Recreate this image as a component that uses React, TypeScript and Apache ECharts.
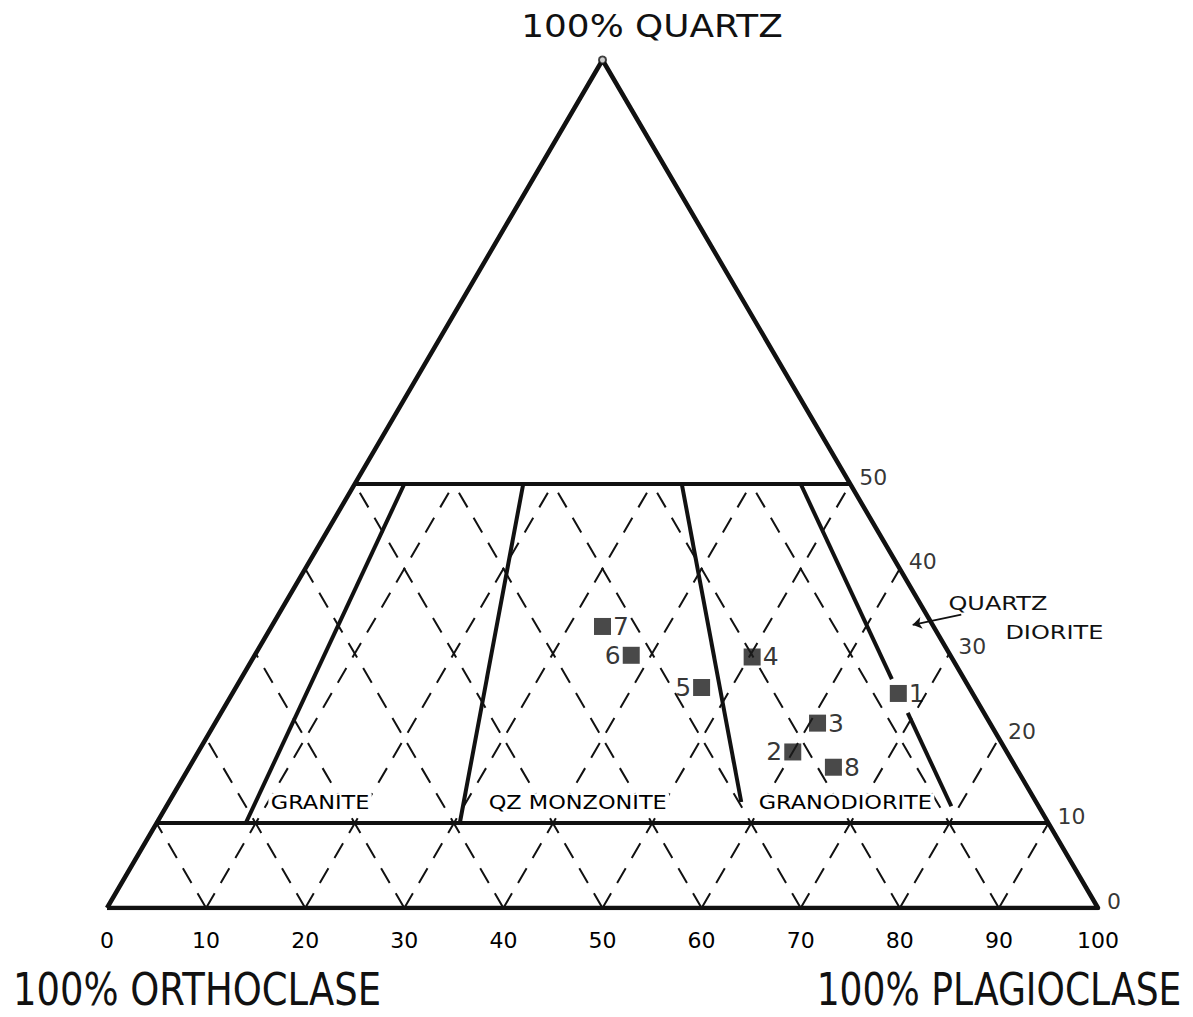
import React, { useEffect, useRef } from "react";
import * as echarts from "echarts";

// ---- data ----
const quartzTicks = [0, 10, 20, 30, 40, 50];
const gridSteps = [10, 20, 30, 40, 50, 60, 70, 80, 90];
const solidQuartzLevels = [10, 50];
const gridTopQuartz = 50;

// field boundaries: plagioclase / (plagioclase + orthoclase) ratio, quartz range
const boundaryRatios = [10, 34, 66, 90, 90];
const boundaryQuartzFrom = [10, 10, 12.5, 12, 27];
const boundaryQuartzTo = [50, 50, 50, 23, 50];

const sampleIds = ["1", "2", "3", "4", "5", "6", "7", "8"];
const sampleQuartz = [25.3, 18.4, 21.8, 29.6, 26, 29.8, 33.2, 16.6];
const samplePlagioclase = [67.2, 60, 60.8, 50.3, 47, 38, 33.4, 65];
const sampleOrthoclase = sampleIds.map((_, i) => 100 - sampleQuartz[i] - samplePlagioclase[i]);
const samplesLabelledLeft = ["2", "5", "6"];

const fieldNames = ["GRANITE", "QZ MONZONITE", "GRANODIORITE"];

const FONT = "'DejaVu Sans', 'Liberation Sans', sans-serif";

// ternary (quartz, plagioclase) -> cartesian (base %, height %)
const xy = (q: number, p: number): [number, number] => [p + q / 2, q];

export default function App() {
  const ref = useRef<HTMLDivElement>(null);

  useEffect(() => {
    if (!ref.current) return;
    const chart = echarts.init(ref.current, undefined, { renderer: "svg" });

    const dashed: [number, number][][] = [];
    gridSteps.forEach((k) => {
      const qmax = Math.min(gridTopQuartz, 100 - k);
      dashed.push([xy(0, k), xy(qmax, k)]); // constant plagioclase
      dashed.push([xy(0, 100 - k), xy(qmax, 100 - k - qmax)]); // constant orthoclase
    });

    const solid = solidQuartzLevels.map((q) => [xy(q, 0), xy(q, 100 - q)]);

    const boundaries = boundaryRatios.map((r, i) => {
      const q0 = boundaryQuartzFrom[i];
      const q1 = boundaryQuartzTo[i];
      return [xy(q0, (r * (100 - q0)) / 100), xy(q1, (r * (100 - q1)) / 100)];
    });

    const sampleData = sampleIds.map((id, i) => ({
      value: xy(sampleQuartz[i], 100 - sampleQuartz[i] - sampleOrthoclase[i]),
      name: id,
      label: {
        position: samplesLabelledLeft.includes(id) ? "left" : "right",
      },
    }));

    const textStyleBase = { fontFamily: FONT, color: "#000" };

    chart.setOption({
      animation: false,
      backgroundColor: "#ffffff",
      grid: { left: 107, right: 95, top: 60, bottom: 109 },
      xAxis: {
        type: "value",
        min: 0,
        max: 100,
        interval: 10,
        axisLine: { show: false },
        axisTick: { show: false },
        splitLine: { show: false },
        axisLabel: { show: true, margin: 21, fontSize: 22, ...textStyleBase },
      },
      yAxis: {
        type: "value",
        min: 0,
        max: 100,
        show: false,
        splitLine: { show: false },
      },
      series: [
        {
          type: "lines",
          coordinateSystem: "cartesian2d",
          silent: true,
          data: dashed.map((c) => ({ coords: c })),
          lineStyle: { color: "#111", width: 2, type: [17, 12], opacity: 1 },
          z: 2,
        },
        {
          type: "line",
          data: [xy(0, 0), xy(0, 100), xy(100, 0), xy(0, 0)],
          showSymbol: false,
          silent: true,
          lineStyle: { color: "#111", width: 4.5, join: "round" },
          z: 3,
        },
        {
          type: "lines",
          coordinateSystem: "cartesian2d",
          silent: true,
          data: solid.map((c) => ({ coords: c })),
          lineStyle: { color: "#111", width: 4, opacity: 1 },
          z: 3,
        },
        {
          type: "lines",
          coordinateSystem: "cartesian2d",
          silent: true,
          data: boundaries.map((c) => ({ coords: c })),
          lineStyle: { color: "#111", width: 4, opacity: 1 },
          z: 3,
        },
        {
          type: "lines",
          coordinateSystem: "cartesian2d",
          silent: true,
          symbol: ["none", "arrow"],
          symbolSize: 9,
          data: [{ coords: [[86.2, 34.6], [81.3, 33.4]] }],
          lineStyle: { color: "#111", width: 1.8, opacity: 1 },
          z: 3,
        },
        {
          type: "scatter",
          silent: true,
          symbol: "circle",
          symbolSize: 7,
          itemStyle: { color: "#fff", borderColor: "#111", borderWidth: 2 },
          data: [xy(100, 0)],
          z: 4,
        },
        {
          type: "scatter",
          silent: true,
          symbolSize: 0,
          data: quartzTicks.map((q) => ({ value: xy(q, 100 - q), name: String(q) })),
          label: {
            show: true,
            position: "right",
            distance: 0,
            offset: [9, -7],
            formatter: (p: any) => p.name,
            fontSize: 22,
            ...textStyleBase,
          },
          z: 5,
        },
        {
          type: "scatter",
          silent: true,
          symbol: "rect",
          symbolSize: 17,
          itemStyle: { color: "#1c1c1c" },
          data: sampleData,
          label: {
            show: true,
            distance: 2,
            formatter: (p: any) => p.name,
            fontSize: 25,
            ...textStyleBase,
          },
          z: 6,
        },
      ],
    });

    const px = (x: number, y: number) => chart.convertToPixel({ gridIndex: 0 }, [x, y]) as number[];
    const fieldAnchors: [number, number][] = [
      [21.5, 12.4],
      [47.5, 12.4],
      [74.5, 12.4],
    ];
    const fieldTexts = fieldNames.map((name, i) => {
      const [x, y] = px(fieldAnchors[i][0], fieldAnchors[i][1]);
      return {
        type: "text",
        x,
        y,
        scaleX: 1.18,
        silent: true,
        style: {
          text: name,
          fontSize: 19,
          fontFamily: FONT,
          fill: "#000",
          textAlign: "center",
          textVerticalAlign: "middle",
          backgroundColor: "#fff",
          padding: [0, 2],
        },
        z: 10,
      };
    });
    const [qx1, qy1] = px(89.9, 36);
    const [qx2, qy2] = px(95.6, 32.6);

    const titleStyle = (text: string, size: number) => ({
      text,
      fontSize: size,
      fontFamily: FONT,
      fill: "#111",
      textAlign: "center",
      textVerticalAlign: "middle",
    });

    chart.setOption({
      graphic: [
        ...fieldTexts,
        {
          type: "text",
          x: qx1,
          y: qy1,
          scaleX: 1.2,
          silent: true,
          style: titleStyle("QUARTZ", 20),
          z: 10,
        },
        {
          type: "text",
          x: qx2,
          y: qy2,
          scaleX: 1.2,
          silent: true,
          style: titleStyle("DIORITE", 20),
          z: 10,
        },
        {
          type: "text",
          x: 652,
          y: 26,
          scaleX: 1.12,
          silent: true,
          style: titleStyle("100% QUARTZ", 32),
        },
        {
          type: "text",
          x: 197,
          y: 990,
          scaleX: 0.84,
          silent: true,
          style: titleStyle("100% ORTHOCLASE", 44),
        },
        {
          type: "text",
          x: 999,
          y: 990,
          scaleX: 0.82,
          silent: true,
          style: titleStyle("100% PLAGIOCLASE", 44),
        },
      ],
    });

    return () => chart.dispose();
  }, []);

  return (
    <div
      ref={ref}
      style={{ position: "absolute", left: 0, top: 0, width: 1193, height: 1017, background: "#fff" }}
    />
  );
}
